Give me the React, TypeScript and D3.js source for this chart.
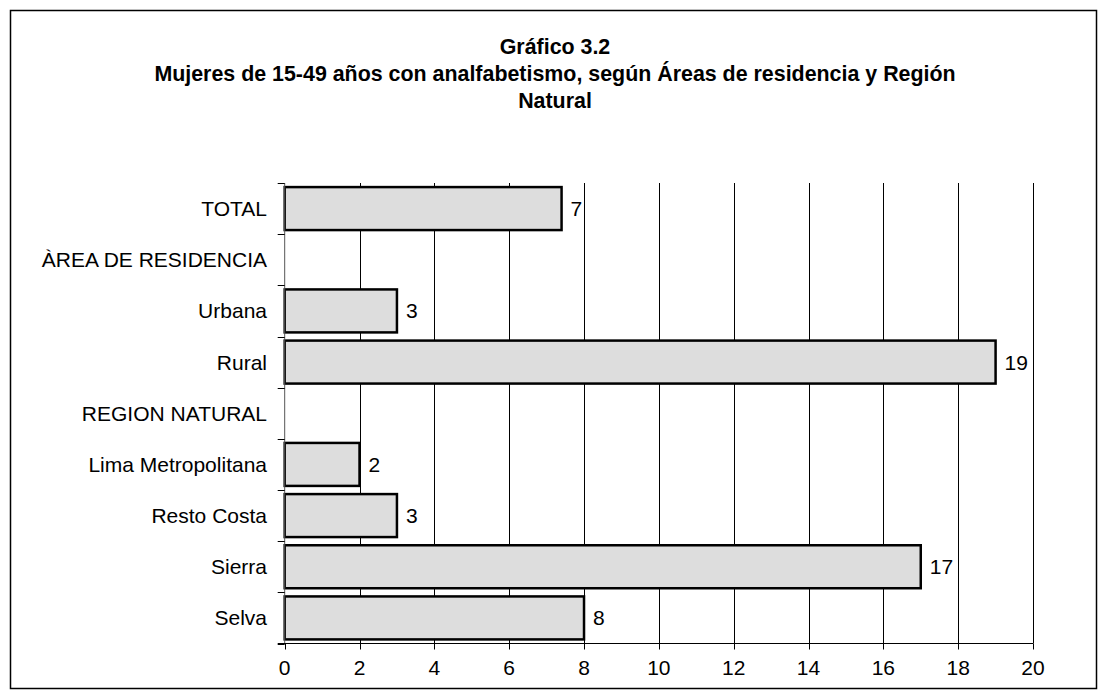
import React, { useEffect, useRef } from 'react';
import * as d3 from 'd3';

const categories = [
  'TOTAL',
  'ÀREA DE RESIDENCIA',
  'Urbana',
  'Rural',
  'REGION NATURAL',
  'Lima Metropolitana',
  'Resto Costa',
  'Sierra',
  'Selva',
];
// null = section header row, no bar
const values: (number | null)[] = [7.4, null, 3.0, 19.0, null, 2.0, 3.0, 17.0, 8.0];
const valueLabels = ['7', '', '3', '19', '', '2', '3', '17', '8'];
const xTicks = [0, 2, 4, 6, 8, 10, 12, 14, 16, 18, 20];
const titleLines = [
  'Gráfico 3.2',
  'Mujeres de 15-49 años con analfabetismo, según Áreas de residencia y Región',
  'Natural',
];

const App = () => {
  const svgRef = useRef<SVGSVGElement | null>(null);

  useEffect(() => {
    const width = 1108;
    const height = 695;
    const font = 'Arial, "Liberation Sans", sans-serif';

    const svg = d3.select(svgRef.current);
    svg.selectAll('*').remove();
    svg.attr('width', width).attr('height', height);

    svg.append('rect')
      .attr('width', width).attr('height', height)
      .attr('fill', '#fff');

    // outer frame
    svg.append('rect')
      .attr('x', 10.5).attr('y', 10.5)
      .attr('width', 1086).attr('height', 678)
      .attr('fill', 'none')
      .attr('stroke', '#000')
      .attr('stroke-width', 1.5);

    // title
    svg.append('g')
      .selectAll('text')
      .data(titleLines)
      .enter()
      .append('text')
      .attr('x', 555)
      .attr('y', (d, i) => 54 + i * 27)
      .attr('text-anchor', 'middle')
      .style('font-family', font)
      .style('font-weight', 'bold')
      .style('font-size', '21.4px')
      .text(d => d);

    const left = 284.7;
    const right = 1033;
    const top = 183;
    const bottom = 643.5;

    const x = d3.scaleLinear().domain([0, 20]).range([left, right]);
    const y = d3.scaleBand().domain(categories).range([top, bottom]).paddingInner(0.16).paddingOuter(0.08);
    const step = y.step();

    // gridlines
    svg.append('g')
      .selectAll('line')
      .data(xTicks.filter(t => t > 0))
      .enter()
      .append('line')
      .attr('x1', d => Math.round(x(d)) + 0.5)
      .attr('x2', d => Math.round(x(d)) + 0.5)
      .attr('y1', top)
      .attr('y2', bottom)
      .attr('stroke', '#000')
      .attr('stroke-width', 1);

    // bars
    const rows = categories.map((c, i) => ({ c, v: values[i], lab: valueLabels[i] }));
    const bars = rows.filter(r => r.v !== null);

    svg.append('g')
      .selectAll('rect')
      .data(bars)
      .enter()
      .append('rect')
      .attr('x', x(0))
      .attr('y', d => y(d.c)!)
      .attr('width', d => x(d.v as number) - x(0))
      .attr('height', y.bandwidth())
      .attr('fill', '#dddddd')
      .attr('stroke', '#000')
      .attr('stroke-width', 2.5);

    // value labels
    svg.append('g')
      .selectAll('text')
      .data(bars)
      .enter()
      .append('text')
      .attr('x', d => x(d.v as number) + 9)
      .attr('y', d => y(d.c)! + y.bandwidth() / 2 + 7.5)
      .style('font-family', font)
      .style('font-size', '21px')
      .text(d => d.lab);

    // y axis
    const ya = svg.append('g');
    ya.append('line')
      .attr('x1', left).attr('x2', left)
      .attr('y1', top).attr('y2', bottom)
      .attr('stroke', '#555').attr('stroke-width', 1);
    ya.selectAll('line.tick')
      .data(d3.range(categories.length + 1))
      .enter()
      .append('line')
      .attr('class', 'tick')
      .attr('x1', left - 7).attr('x2', left)
      .attr('y1', i => Math.round(top + i * step) + 0.5)
      .attr('y2', i => Math.round(top + i * step) + 0.5)
      .attr('stroke', '#000');
    ya.selectAll('text')
      .data(categories)
      .enter()
      .append('text')
      .attr('x', 267)
      .attr('y', d => y(d)! + y.bandwidth() / 2 + 7.5)
      .attr('text-anchor', 'end')
      .style('font-family', font)
      .style('font-size', '21px')
      .text(d => d);

    // x axis
    const xa = svg.append('g');
    xa.append('line')
      .attr('x1', left - 7).attr('x2', right)
      .attr('y1', bottom).attr('y2', bottom)
      .attr('stroke', '#000').attr('stroke-width', 1.2);
    xa.selectAll('line.tick')
      .data(xTicks)
      .enter()
      .append('line')
      .attr('class', 'tick')
      .attr('x1', d => Math.round(x(d)) + 0.5)
      .attr('x2', d => Math.round(x(d)) + 0.5)
      .attr('y1', bottom).attr('y2', bottom + 6)
      .attr('stroke', '#000');
    xa.selectAll('text')
      .data(xTicks)
      .enter()
      .append('text')
      .attr('x', d => x(d))
      .attr('y', 675)
      .attr('text-anchor', 'middle')
      .style('font-family', font)
      .style('font-size', '21px')
      .text(d => String(d));
  }, []);

  return (
    <div style={{ position: 'absolute', left: 0, top: 0 }}>
      <svg ref={svgRef} style={{ display: 'block' }}></svg>
    </div>
  );
};

export default App;
